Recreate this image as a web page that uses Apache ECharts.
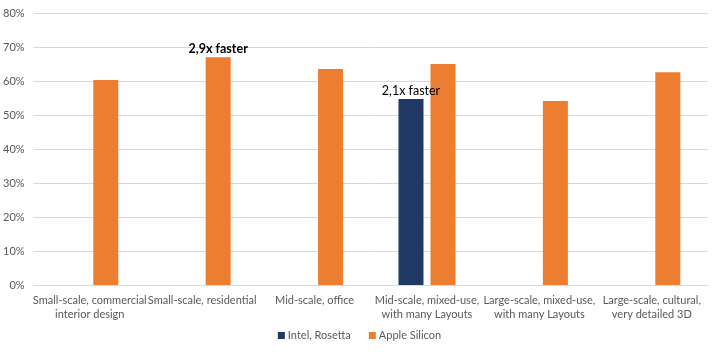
<!DOCTYPE html>
<html>
<head>
<meta charset="utf-8">
<script src="https://cdn.jsdelivr.net/npm/echarts@6/dist/echarts.min.js"></script>
<style>
  html, body { margin: 0; padding: 0; background: #fff; }
  #chart { width: 719px; height: 352px; }
</style>
</head>
<body>
<div id="chart"></div>
<script>
// categories and values (percent)
const categories = [
    'Small-scale, commercial\ninterior design',
    'Small-scale, residential',
    'Mid-scale, office',
    'Mid-scale, mixed-use,\nwith many Layouts',
    'Large-scale, mixed-use,\nwith many Layouts',
    'Large-scale, cultural,\nvery detailed 3D'
];
const intelRosetta = [null, null, null, 54.7, null, null];
const appleSilicon = [60.3, 67.0, 63.5, 65.0, 54.1, 62.6];
const intelNotes = ['', '', '', '2,1x faster', '', ''];
const appleNotes = ['', '2,9x faster', '', '', '', ''];

const font = 'Lato, "Open Sans", sans-serif';

function withNotes(values, notes, bold) {
    return values.map((v, i) => notes[i] ? {
        value: v,
        label: {
            show: true, position: 'top', distance: 2,
            formatter: notes[i], color: '#000', fontSize: 12.5,
            fontWeight: bold ? 'bold' : 'normal', fontFamily: font
        }
    } : v);
}

const chart = echarts.init(document.getElementById('chart'), null, { renderer: 'canvas' });

const option = {
    animation: false,
    textStyle: { fontFamily: font },
    grid: { left: 33, right: 11, top: 13, bottom: 67 },
    legend: {
        bottom: 6,
        left: 'center',
        itemWidth: 7,
        itemHeight: 7,
        itemGap: 18,
        icon: 'rect',
        textStyle: { color: '#595959', fontSize: 11, fontFamily: font, padding: [0, 0, 0, -2] },
        data: ['Intel, Rosetta', 'Apple Silicon']
    },
    xAxis: {
        type: 'category',
        data: categories,
        axisTick: { show: false },
        axisLine: { lineStyle: { color: '#d9d9d9' } },
        axisLabel: {
            color: '#595959', fontSize: 11, fontFamily: font,
            interval: 0, margin: 8, lineHeight: 14
        }
    },
    yAxis: {
        type: 'value',
        min: 0, max: 80, interval: 10,
        axisLabel: {
            formatter: '{value}%', color: '#595959', fontSize: 11,
            fontFamily: font, margin: 9
        },
        splitLine: { lineStyle: { color: '#d9d9d9' } },
        axisLine: { show: false },
        axisTick: { show: false }
    },
    series: [
        {
            name: 'Intel, Rosetta',
            type: 'bar',
            data: withNotes(intelRosetta, intelNotes, false),
            itemStyle: { color: '#203864' },
            barWidth: 25,
            barGap: '28%'
        },
        {
            name: 'Apple Silicon',
            type: 'bar',
            data: withNotes(appleSilicon, appleNotes, true),
            itemStyle: { color: '#ed7d31' },
            barWidth: 25
        }
    ]
};

chart.setOption(option);
</script>
</body>
</html>
